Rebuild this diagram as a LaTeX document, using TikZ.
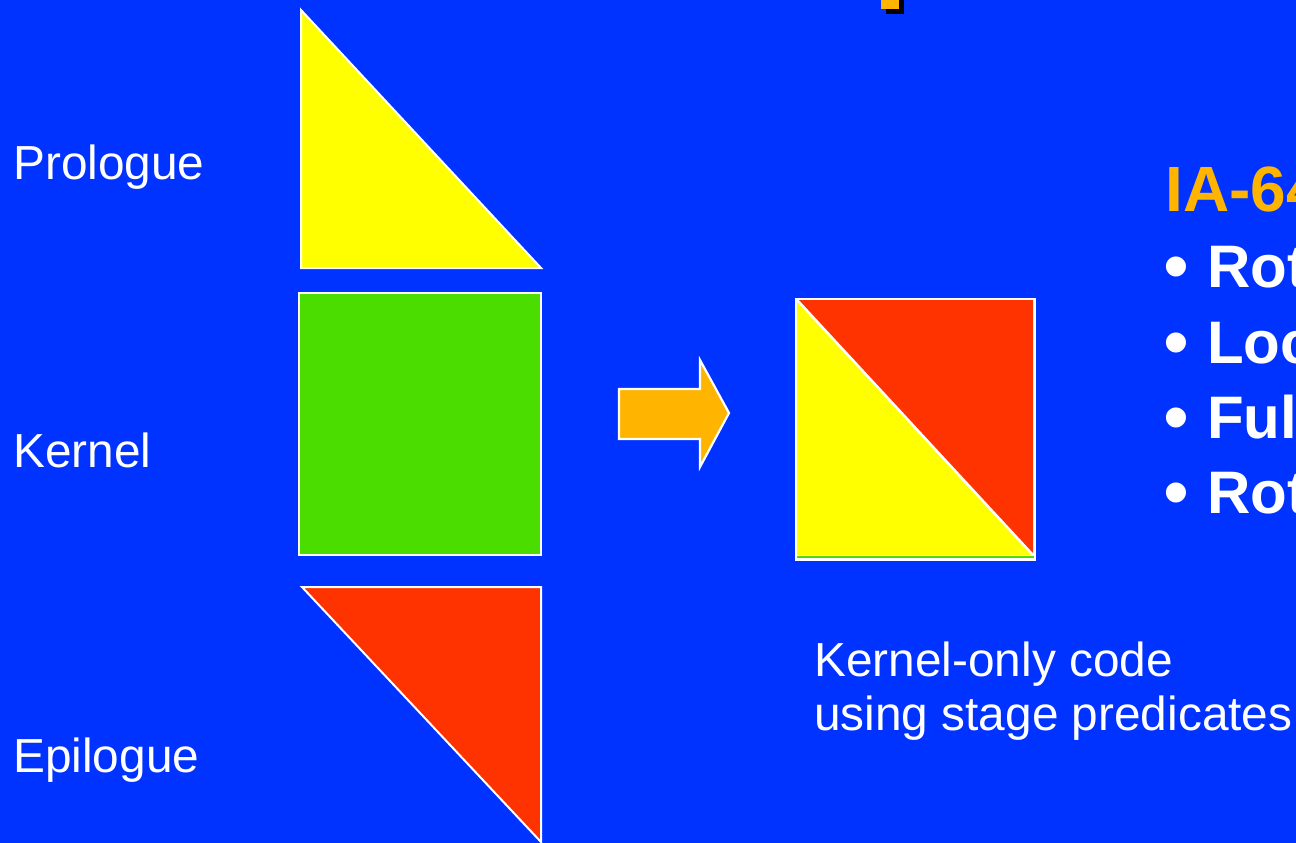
\documentclass[tikz,border=0pt]{standalone}
\usepackage{fontspec}
\setmainfont{Liberation Sans}
\definecolor{bg}{HTML}{0033FF}
\definecolor{yel}{HTML}{FFFF00}
\definecolor{redd}{HTML}{FF3300}
\definecolor{grn}{HTML}{4CDD00}
\definecolor{org}{HTML}{FFB400}
\tikzset{
  piece/.style={draw=white, line width=2pt, line join=miter},
  lbl/.style={text=white, inner sep=0pt, anchor=base west, font=\fontsize{47.8}{54}\selectfont},
  head/.style={text=org, inner sep=0pt, anchor=base west, font=\bfseries\fontsize{64}{72}\selectfont},
  bul/.style={text=white, inner sep=0pt, anchor=base west, font=\bfseries\fontsize{60}{70}\selectfont},
  dot/.style={text=white, inner sep=0pt, anchor=base west, font=\fontsize{74}{80}\selectfont},
}
\begin{document}
\begin{tikzpicture}[x=1pt,y=-1pt]
\useasboundingbox (0,0) rectangle (1296,843);
\clip (0,0) rectangle (1296,843);
\fill[bg] (0,0) rectangle (1296,843);
% partial shape at top
\fill[black] (886,0) rectangle (904,14);
\fill[org] (881,0) rectangle (899,9);
% prologue triangle
\filldraw[piece, fill=yel] (301,10) -- (301,268) -- (541,268) -- cycle;
% kernel square
\filldraw[piece, fill=grn] (299,293) rectangle (541,555);
% epilogue triangle
\filldraw[piece, fill=redd] (302,587) -- (541,587) -- (541,842) -- cycle;
% arrow
\filldraw[piece, fill=org, line width=2.2pt] (619,389) -- (700,389) -- (700,360) -- (729,413) -- (700,467) -- (700,439) -- (619,439) -- cycle;
% kernel-only square
\fill[white] (795,298) rectangle (1036,561);
\draw[grn, line width=2pt] (797,557) -- (1034,557);
\fill[yel] (797,302) -- (797,555) -- (1031,555) -- cycle;
\fill[redd] (799,300) -- (1033,300) -- (1033,553) -- cycle;
% labels
\node[lbl] (pro) at (13,179) {Prologue};
\node[lbl] (ker) at (13,467) {Kernel};
\node[lbl] (epi) at (13,772) {Epilogue};
\node[lbl] (ko1) at (814,676) {Kernel-only code};
\node[lbl] (ko2) at (814,730) {using stage predicates};
\node[head] (ia) at (1165,211) {IA-64};
\node[dot] (d1) at (1163,291) {•};
\node[bul] (b1) at (1207,287) {Rot};
\node[dot] (d2) at (1163,367) {•};
\node[bul] (b2) at (1207,363) {Loc};
\node[dot] (d3) at (1163,442) {•};
\node[bul] (b3) at (1207,438) {Ful};
\node[dot] (d4) at (1163,517) {•};
\node[bul] (b4) at (1207,513) {Rot};
\end{tikzpicture}
\end{document}
